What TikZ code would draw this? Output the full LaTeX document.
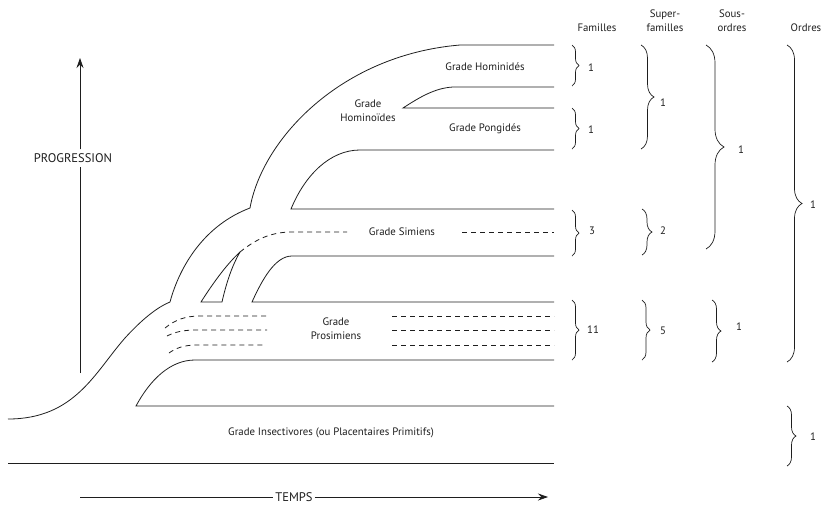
\documentclass[tikz,border=0pt]{standalone}
\usepackage{fontspec}
\setmainfont{PT Sans}
\usetikzlibrary{arrows.meta, decorations.pathreplacing, positioning}
\definecolor{inkgrey}{HTML}{1E1E1E}

\begin{document}
\begin{tikzpicture}[
    x=1pt, y=-1pt,
    % Line styles
    band/.style={line width=0.8pt, draw=inkgrey},
    lineage/.style={line width=0.8pt, draw=inkgrey, dash pattern=on 5pt off 4pt},
    axisline/.style={line width=0.7pt, draw=inkgrey},
    axis/.style={line width=0.7pt, draw=inkgrey, fill=inkgrey, -{Stealth[length=10pt, width=7pt]}},
    bracket/.style={line width=0.7pt, draw=inkgrey, decorate, decoration={brace, amplitude=#1}},
    bracket/.default=8pt,
    % Text styles
    grade/.style={font=\fontsize{10.8}{14}\selectfont, text=inkgrey, align=center, inner sep=2pt},
    axislabel/.style={font=\fontsize{12.5}{14}\selectfont, text=inkgrey, inner sep=2pt},
    heading/.style={font=\fontsize{10.8}{14}\selectfont, text=inkgrey, align=center, inner sep=0pt},
    count/.style={font=\fontsize{10.8}{12}\selectfont, text=inkgrey, inner sep=0pt},
]
\useasboundingbox (0,0) rectangle (828,507);

% ============================================================================
% AXES
% ============================================================================
\coordinate (progfoot) at (80,373);
\coordinate (progtip) at (80,58);
\node[axislabel, inner sep=4pt] (progression) at (73,158) {PROGRESSION};
\draw[axisline] (progfoot) -- (progression.south -| progfoot);
\draw[axis] (progression.north -| progfoot) -- (progtip);

\coordinate (tempsfoot) at (80,497);
\coordinate (tempstip) at (548,497);
\node[axislabel] (temps) at (294,497) {TEMPS};
\draw[axisline] (tempsfoot) -- (temps);
\draw[axis] (temps) -- (tempstip);

% ============================================================================
% GRADES (bands)
% ============================================================================
% Outer envelope
\draw[band] (8,419) .. controls (75,419) and (95,372) .. (125,338)
    .. controls (145,316) and (160,306) .. (170,302)
    .. controls (180,265) and (205,225) .. (250,208)
    .. controls (262,140) and (340,55) .. (460,45) -- (554,45);

% Hominides / Pongides split
\draw[band] (554,87) -- (453,87) .. controls (435,88) and (420,97) .. (403,108) -- (554,108);

% Hominoides / Simiens
\draw[band] (554,150) -- (360,150) .. controls (330,150) and (305,175) .. (291,209) -- (554,209);

% Simiens / Prosimiens
\draw[band] (554,256) -- (292,256) .. controls (275,256) and (262,280) .. (252,302) -- (554,302);

% Small wedge
\draw[band] (240,252) .. controls (228,263) and (215,280) .. (201,302) -- (222,302)
    .. controls (227,280) and (233,264) .. (240,252);

% Prosimiens / Insectivores
\draw[band] (554,360) -- (195,360) .. controls (170,360) and (150,380) .. (136,406) -- (554,406);

% Base
\draw[band] (8,463) -- (554,463);

% Dashed lineages
\draw[lineage] (240,252) .. controls (255,240) and (270,232) .. (292,232) -- (347,232);
\draw[lineage] (462,232) -- (554,232);

\draw[lineage] (165,328) .. controls (175,320) and (185,316) .. (200,316) -- (267,316);
\draw[lineage] (167,336) .. controls (175,332) and (183,330) .. (197,330) -- (267,330);
\draw[lineage] (169,353) .. controls (176,348) and (184,345) .. (197,345) -- (263,345);
\foreach \y in {316,330,345}
    \draw[lineage] (392,\y) -- (554,\y);

% Labels
\node[grade] (hominides) at (485,67) {Grade Hominidés};
\node[grade] (pongides) at (485,129) {Grade Pongidés};
\node[grade] (hominoides) at (368,111) {Grade\\Hominoïdes};
\node[grade] (simiens) at (402,232) {Grade Simiens};
\node[grade] (prosimiens) at (336,329) {Grade\\Prosimiens};
\node[grade] (insectivores) at (331,433) {Grade Insectivores (ou Placentaires Primitifs)};

% ============================================================================
% CLASSIFICATION
% ============================================================================
\node[heading] (familles) at (597,28) {Familles};
\node[heading] (superfam) at (665,21) {Super-\\familles};
\node[heading] (sousordres) at (732,21) {Sous-\\ordres};
\node[heading] (ordres) at (806,28) {Ordres};

% Familles
\draw[bracket=7pt] (572,45) -- (572,86);
\draw[bracket=7pt] (572,108) -- (572,149);
\draw[bracket=7pt] (572,210) -- (572,256);
\draw[bracket=7pt] (572,300) -- (572,360);
\node[count] (fam1) at (591,68) {1};
\node[count] (fam2) at (591,130) {1};
\node[count] (fam3) at (592,231) {3};
\node[count] (fam4) at (593,330) {11};

% Super-familles
\draw[bracket=13pt] (641,45) -- (641,149);
\draw[bracket=10pt] (642,209) -- (642,255);
\draw[bracket=8pt] (642,300) -- (642,360);
\node[count] (sup1) at (663,103) {1};
\node[count] (sup2) at (663,231) {2};
\node[count] (sup3) at (663,331) {5};

% Sous-ordres
\draw[bracket=18pt] (706,45) -- (706,249);
\draw[bracket=9pt] (712,300) -- (712,362);
\node[count] (sous1) at (741,150) {1};
\node[count] (sous2) at (739,327) {1};

% Ordres
\draw[bracket=15pt] (787,45) -- (787,362);
\draw[bracket=9pt] (787,406) -- (787,466);
\node[count] (ord1) at (813,205) {1};
\node[count] (ord2) at (813,437) {1};

\end{tikzpicture}
\end{document}
